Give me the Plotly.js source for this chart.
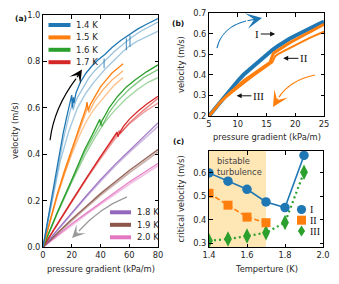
<!DOCTYPE html>
<html><head><meta charset="utf-8">
<script src="https://cdn.plot.ly/plotly-3.0.1.min.js"></script>
<style>html,body{margin:0;padding:0;background:#fff}#chart{width:339px;height:284px}</style>
</head><body><div id="chart"></div>
<script>
// ---------- Panel (a) data: velocity (m/s) vs pressure gradient (kPa/m) ----------
const tempsA = ['1.4 K','1.5 K','1.6 K','1.7 K','1.8 K','1.9 K','2.0 K'];
const colorsA = ['#1f77b4','#ff7f0e','#2ca02c','#d62728','#9467bd','#8c564b','#e377c2'];

const blue1P = [0,5,10,14,17,19,20,20.4,21.2,21.6,23,26,30,34,38,43,48,54,60,66,72,80];
const blue1V = [0,0.18,0.36,0.49,0.575,0.625,0.655,0.6,0.645,0.62,0.665,0.71,0.75,0.78,0.805,0.83,0.86,0.89,0.915,0.94,0.96,0.985];
const blue2P = [0,5,10,14,18,20.5,21,22,24,28,32,36,40,45,50,56,62,68,74,80];
const blue2V = [0,0.17,0.34,0.46,0.565,0.62,0.59,0.615,0.645,0.69,0.73,0.76,0.785,0.815,0.845,0.875,0.905,0.93,0.95,0.97];
const blue3P = [0,6,12,18,24,30,36,43,50,56,60,65,70,75,80];
const blue3V = [0,0.19,0.37,0.5,0.6,0.665,0.715,0.765,0.81,0.845,0.865,0.885,0.9,0.915,0.93];
const blueJumpP = [42.5,42.5,null,58,58,null,60.5,60.5];
const blueJumpV = [0.812,0.77,null,0.9,0.848,null,0.913,0.862];

const or1P = [0,5,10,15,20,24,28,30,30.6,31.5,33,36,40,44,48,52,55.7];
const or1V = [0,0.115,0.23,0.33,0.42,0.49,0.56,0.6,0.625,0.59,0.615,0.65,0.69,0.72,0.75,0.77,0.79];
const or2P = [0,5,10,15,20,25,30,35,40,45,50,55.7];
const or2V = [0,0.11,0.22,0.315,0.4,0.475,0.54,0.59,0.63,0.665,0.7,0.73];
const or3P = [0,10,20,26,30,31,32,36,42,48,55.7];
const or3V = [0,0.225,0.41,0.51,0.575,0.6,0.58,0.63,0.68,0.72,0.76];

const gr1P = [0,10,20,29,34,38,39.5,40.2,41,43,46,52,58,64,72,80];
const gr1V = [0,0.15,0.29,0.42,0.48,0.53,0.55,0.525,0.545,0.565,0.6,0.65,0.69,0.72,0.755,0.785];
const gr2P = [0,10,20,30,36,42,50,58,66,73,80];
const gr2V = [0,0.145,0.28,0.405,0.47,0.53,0.59,0.64,0.68,0.71,0.73];
const gr3P = [0,10,20,29,35,40,41,46,52,60,70,80];
const gr3V = [0,0.148,0.285,0.41,0.475,0.53,0.52,0.58,0.63,0.68,0.73,0.765];

const rd1P = [0,10,20,30,38,43,48,51.5,52.2,53,56,60,66,72,80];
const rd1V = [0,0.1,0.2,0.295,0.37,0.415,0.46,0.495,0.475,0.49,0.52,0.55,0.585,0.615,0.65];
const rd2P = [0,10,20,30,40,50,55,60,70,80];
const rd2V = [0,0.097,0.195,0.29,0.38,0.465,0.5,0.53,0.58,0.62];
const rd3P = [0,20,40,50,53,54,60,70,80];
const rd3V = [0,0.2,0.39,0.475,0.5,0.49,0.535,0.59,0.64];

const lowP = [0,10,20,30,40,50,60,70,80];
const pu1V = [0,0.075,0.15,0.22,0.29,0.355,0.415,0.475,0.535];
const pu2V = [0,0.073,0.145,0.215,0.283,0.348,0.408,0.465,0.52];
const br1V = [0,0.06,0.12,0.175,0.23,0.28,0.33,0.375,0.42];
const br2V = [0,0.058,0.115,0.17,0.223,0.273,0.32,0.365,0.41];
const pk1V = [0,0.05,0.1,0.145,0.19,0.235,0.28,0.32,0.36];
const pk2V = [0,0.048,0.096,0.14,0.184,0.228,0.27,0.31,0.35];

// ---------- Panel (b) data ----------
const bBlueP = [5,6,7,8,9,10,11,12,13,14,15,16,17,18,19,20,21,22,23,24,25];
const bBlueV = [0.2,0.235,0.27,0.3,0.335,0.37,0.4,0.425,0.45,0.475,0.5,0.52,0.54,0.56,0.575,0.59,0.605,0.62,0.632,0.645,0.658];
const bSawP = [16.5,17.2,17.3,18.0,18.1,18.8,18.9,19.6,19.7,20.4,20.5,21.2,21.3,21.8];
const bSawV = [0.55,0.585,0.56,0.6,0.575,0.615,0.59,0.63,0.605,0.645,0.615,0.655,0.625,0.64];
const bOr1P = [5,6,7,8,9,10,11,12,13,14,15,15.6,16.2,17,18,19,20,21,22,23,24,25];
const bOr1V = [0.2,0.235,0.268,0.295,0.32,0.345,0.37,0.39,0.41,0.43,0.45,0.46,0.505,0.52,0.54,0.555,0.57,0.585,0.6,0.615,0.63,0.645];
const bOr2P = [5,6,7,8,9,10,11,12,13,14,15,16,16.5,17,18,19,20,21,22,23,24,25];
const bOr2V = [0.2,0.235,0.268,0.292,0.315,0.338,0.36,0.38,0.4,0.42,0.44,0.46,0.49,0.5,0.515,0.53,0.545,0.56,0.572,0.585,0.598,0.61];

// ---------- Panel (c) data ----------
const tempC = [1.4,1.5,1.6,1.7,1.8,1.9];
const critI = [0.6,0.565,0.53,0.476,0.452,0.675];
const tempII = [1.4,1.5,1.6,1.7];
const critII = [0.513,0.462,0.411,0.387];
const critIII = [0.31,0.317,0.33,0.344,0.388,0.603];
const labelsC = ['I','II','III'];
const colorsC = ['#1f77b4','#ff7f0e','#2ca02c'];

// ---------- build traces ----------
function rgba(hex,a){const n=parseInt(hex.slice(1),16);return `rgba(${n>>16},${(n>>8)&255},${n&255},${a})`;}
const traces = [];
function lineA(x,y,color,alpha,w){traces.push({type:'scatter',mode:'lines',x:x,y:y,xaxis:'x',yaxis:'y',
  line:{color:rgba(color,alpha),width:w},hoverinfo:'skip',showlegend:false});}

lineA(lowP,pk2V,colorsA[6],0.45,1.8); lineA(lowP,pk1V,colorsA[6],0.9,1.4);
lineA(lowP,br2V,colorsA[5],0.45,1.8); lineA(lowP,br1V,colorsA[5],0.9,1.4);
lineA(lowP,pu2V,colorsA[4],0.45,1.6); lineA(lowP,pu1V,colorsA[4],0.85,1.3);
lineA(rd2P,rd2V,colorsA[3],0.45,1.4); lineA(rd3P,rd3V,colorsA[3],0.6,1.3); lineA(rd1P,rd1V,colorsA[3],1,1.3);
lineA(gr2P,gr2V,colorsA[2],0.45,1.4); lineA(gr3P,gr3V,colorsA[2],0.6,1.3); lineA(gr1P,gr1V,colorsA[2],1,1.3);
lineA(or2P,or2V,colorsA[1],0.45,1.4); lineA(or3P,or3V,colorsA[1],0.6,1.3); lineA(or1P,or1V,colorsA[1],1,1.3);
lineA(blue3P,blue3V,colorsA[0],0.4,1.4); lineA(blue2P,blue2V,colorsA[0],0.45,1.3);
lineA(blueJumpP,blueJumpV,colorsA[0],0.8,1.1); lineA(blue1P,blue1V,colorsA[0],1,1.3);

function lineB(x,y,color,w){traces.push({type:'scatter',mode:'lines',x:x,y:y,xaxis:'x2',yaxis:'y2',
  line:{color:color,width:w},hoverinfo:'skip',showlegend:false});}
lineB(bBlueP,bBlueV,colorsC[0],4);
lineB(bSawP,bSawV,'#ffffff',1);
lineB(bOr2P,bOr2V,colorsC[1],2);
lineB(bOr1P,bOr1V,colorsC[1],3);

traces.push({type:'scatter',mode:'lines+markers',x:tempC,y:critIII,xaxis:'x3',yaxis:'y3',name:labelsC[2],
  line:{color:colorsC[2],width:2.2,dash:'2px,3px'},marker:{symbol:'diamond-tall',size:11,color:colorsC[2]},showlegend:false});
traces.push({type:'scatter',mode:'lines+markers',x:tempII,y:critII,xaxis:'x3',yaxis:'y3',name:labelsC[1],
  line:{color:colorsC[1],width:1.6,dash:'5px,2.5px'},marker:{symbol:'square',size:9,color:colorsC[1]},showlegend:false});
traces.push({type:'scatter',mode:'lines+markers',x:tempC,y:critI,xaxis:'x3',yaxis:'y3',name:labelsC[0],
  line:{color:colorsC[0],width:1.6},marker:{symbol:'circle',size:9.5,color:colorsC[0]},showlegend:false});

// ---------- layout ----------
const W=339,H=284;
const px=x=>x/W, py=y=>1-y/H;
const tickFont={family:'DejaVu Sans',size:8.3,color:'#262626'};
const titleFont={family:'DejaVu Sans',size:8.3,color:'#262626'};
function ax(extra){return Object.assign({showline:true,linecolor:'#000',linewidth:1,mirror:'ticks',ticks:'inside',
  ticklen:3.5,tickwidth:1,tickcolor:'#000',showgrid:false,zeroline:false,tickfont:tickFont,fixedrange:true},extra);}

const shapes=[], annotations=[];
// shaded region (c)
shapes.push({type:'rect',xref:'x3',yref:'y3 domain',x0:1.4,x1:1.7,y0:0,y1:1,fillcolor:'#ffe6b5',line:{width:0},layer:'below'});
// curved arrows
function curve(xr,yr,d,color){shapes.push({type:'path',xref:xr,yref:yr,path:d,line:{color:color,width:1.2}});}
curve('x','y','M4.9,0.46 C7.0,0.57 14.6,0.657 23.0,0.726','#000');
curve('x','y','M58.4,0.216 C48.0,0.19 36.2,0.147 25.0,0.069','#999');
curve('x2','y2','M6.39,0.53 C6.91,0.593 8.65,0.642 11.43,0.661',colorsC[0]);
curve('x2','y2','M23.43,0.399 C20.83,0.384 18.57,0.35 17.17,0.292',colorsC[1]);
function head(xr,yr,x,y,ax_,ay_,color,size){annotations.push({xref:xr,yref:yr,axref:xr,ayref:yr,x:x,y:y,ax:ax_,ay:ay_,
  text:'',showarrow:true,arrowhead:3,arrowsize:size,arrowwidth:1.2,arrowcolor:color,standoff:0});}
head('x','y',27.1,0.765,23.0,0.726,'#000',1.8);
head('x','y',20.2,0.039,25.0,0.069,'#999',1.8);
head('x2','y2',14.22,0.676,11.43,0.661,colorsC[0],2.2);
head('x2','y2',16.13,0.244,17.17,0.292,colorsC[1],2.2);
// labelled arrows in (b)
const serif={family:'Liberation Serif',size:11,color:'#111'};
function lab(t,x,y,axv){annotations.push({xref:'x2',yref:'y2',axref:'x2',ayref:'y2',x:x,y:y,ax:axv,ay:y,text:t,font:serif,
  showarrow:true,arrowhead:2,arrowsize:1,arrowwidth:1,arrowcolor:'#111',standoff:0});}
lab('I',16.5,0.598,13.4);
lab('II',17.9,0.48,21.5);
lab('III',9.8,0.298,13.6);

// legends (a)
const legY1=[25,37.4,49.8,62.2], legY2=[212.3,224.8,237.3];
tempsA.forEach((t,i)=>{
  const top=i<4; const y=top?legY1[i]:legY2[i-4]; const x0=top?48.5:110, x1=top?70.5:131, xt=top?74:135;
  shapes.push({type:'line',xref:'paper',yref:'paper',x0:px(x0),x1:px(x1),y0:py(y),y1:py(y),line:{color:colorsA[i],width:4}});
  annotations.push({xref:'paper',yref:'paper',x:px(xt),y:py(y),xanchor:'left',yanchor:'middle',text:t,showarrow:false,
    font:{family:'DejaVu Sans',size:8.5,color:'#262626'}});
});
// legend (c)
const legC=[209.5,220.2,231];
shapes.push({type:'circle',xref:'paper',yref:'paper',x0:px(296.9),x1:px(306.1),y0:py(214.1),y1:py(204.9),fillcolor:colorsC[0],line:{width:0}});
shapes.push({type:'rect',xref:'paper',yref:'paper',x0:px(297),x1:px(306),y0:py(224.7),y1:py(215.7),fillcolor:colorsC[1],line:{width:0}});
shapes.push({type:'path',xref:'paper',yref:'paper',path:`M${px(301.5)},${py(225.5)} L${px(305.1)},${py(231)} L${px(301.5)},${py(236.5)} L${px(297.9)},${py(231)} Z`,fillcolor:colorsC[2],line:{width:0}});
labelsC.forEach((t,i)=>annotations.push({xref:'paper',yref:'paper',x:px(307.5),y:py(legC[i]),xanchor:'left',yanchor:'middle',text:t,showarrow:false,
  font:{family:'Liberation Serif',size:10,color:'#111'}}));
// bistable text
annotations.push({xref:'paper',yref:'paper',x:px(214.5),y:py(154),xanchor:'left',yanchor:'top',align:'left',text:'bistable<br>turbulence',
  showarrow:false,font:{family:'DejaVu Sans',size:8.3,color:'#444'}});
// panel labels
[['(a)',13,12],['(b)',178,17],['(c)',178,141]].forEach(([t,x,y])=>annotations.push({xref:'paper',yref:'paper',x:px(x),y:py(y),
  text:'<b>'+t+'</b>',showarrow:false,font:{family:'DejaVu Sans',size:7.5,color:'#111'}}));
// axis titles
function title(t,x,y,rot){annotations.push({xref:'paper',yref:'paper',x:px(x),y:py(y),xanchor:'center',yanchor:'middle',
  text:t,textangle:rot,showarrow:false,font:titleFont});}
title('pressure gradient (kPa/m)',100.5,268.5,0);
title('velocity (m/s)',15,131,-90);
title('pressure gradient (kPa/m)',266.5,136.5,0);
title('velocity (m/s)',180.5,64.5,-90);
title('Temperture (K)',266,268.5,0);
title('critical velocity (m/s)',180.5,199,-90);

const layout={width:W,height:H,margin:{l:0,r:0,t:0,b:0},paper_bgcolor:'#fff',plot_bgcolor:'rgba(0,0,0,0)',showlegend:false,
  font:{family:'DejaVu Sans',size:8.3,color:'#262626'},
  xaxis:ax({domain:[px(43),px(158)],range:[0,80],dtick:20,anchor:'y'}),
  yaxis:ax({domain:[py(247),py(15)],range:[0,1],dtick:0.2,tickformat:'.1f',anchor:'x'}),
  xaxis2:ax({domain:[px(209),px(324)],range:[5,25],dtick:5,anchor:'y2'}),
  yaxis2:ax({domain:[py(116),py(13)],range:[0.2,0.7],dtick:0.1,tickformat:'.1f',anchor:'x2'}),
  xaxis3:ax({domain:[px(209),px(323)],range:[1.4,2.0],dtick:0.2,tickformat:'.1f',anchor:'y3'}),
  yaxis3:ax({domain:[py(247),py(151)],range:[0.283,0.694],tick0:0.3,dtick:0.1,tickformat:'.1f',anchor:'x3'}),
  shapes:shapes,annotations:annotations};
Plotly.newPlot('chart',traces,layout,{staticPlot:true,displayModeBar:false});
</script></body></html>
